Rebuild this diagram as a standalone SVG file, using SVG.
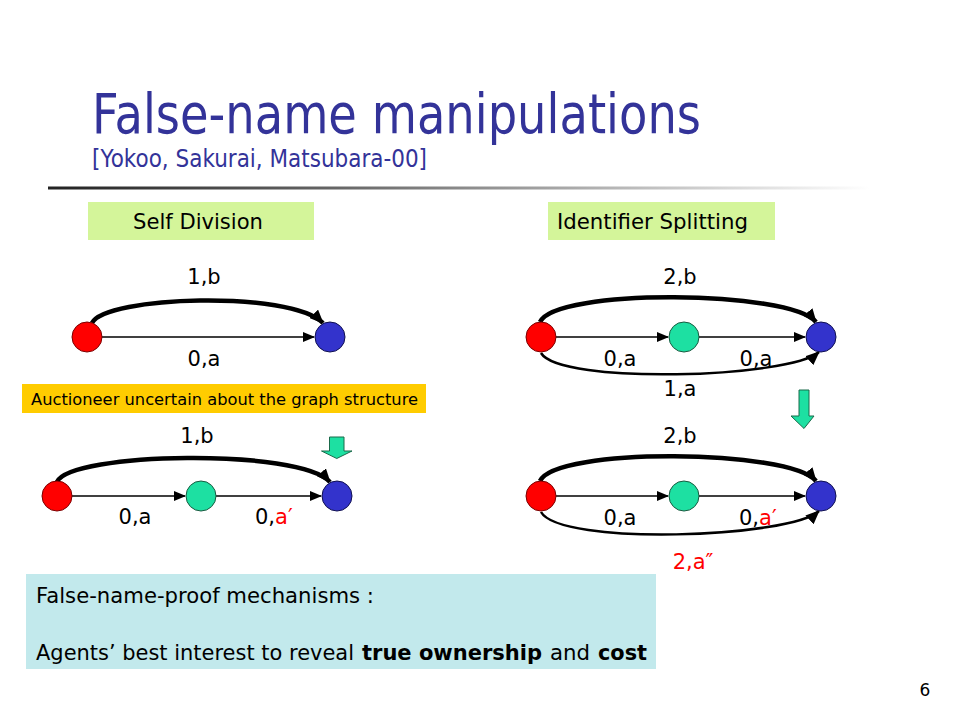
<svg xmlns="http://www.w3.org/2000/svg" width="960" height="720" viewBox="0 0 960 720">
<defs>
  <linearGradient id="rule" x1="0" y1="0" x2="1" y2="0">
    <stop offset="0" stop-color="#222"/>
    <stop offset="0.35" stop-color="#666"/>
    <stop offset="1" stop-color="#fff"/>
  </linearGradient>
  <marker id="ah" markerUnits="userSpaceOnUse" markerWidth="12" markerHeight="10" refX="11" refY="5" orient="auto">
    <path d="M0,0 L12,5 L0,10 z" fill="#000"/>
  </marker>
  <marker id="ahb" markerUnits="userSpaceOnUse" markerWidth="14" markerHeight="12" refX="13" refY="6" orient="auto">
    <path d="M0,0 L14,6 L0,12 z" fill="#000"/>
  </marker>
  <style>
    text{font-family:"DejaVu Sans",Tahoma,sans-serif;fill:#000}
    .lbl{font-size:21px;text-anchor:middle}
    .lbs{font-size:21px}
    .red{fill:#ff0000}
    .thin{fill:none;stroke:#000;stroke-width:1.5;marker-end:url(#ah)}
    .thick{fill:none;stroke:#000;stroke-width:4.5;marker-end:url(#ahb)}
    .curve{fill:none;stroke:#000;stroke-width:2.5;marker-end:url(#ahb)}
    .nr{fill:#ff0000;stroke:#7a0000;stroke-width:1}
    .ng{fill:#1de0a2;stroke:#1a5a40;stroke-width:1}
    .nb{fill:#3333cc;stroke:#101050;stroke-width:1}
    .darrow{fill:#1de0a2;stroke:#1a6a4a;stroke-width:1}
    .note{font-size:22px}
    .b{font-weight:bold}
  </style>
</defs>
<rect width="960" height="720" fill="#fff"/>

<g id="title">
  <text x="92" y="133" style="font-size:55px;fill:#333399" textLength="609" lengthAdjust="spacingAndGlyphs">False-name manipulations</text>
  <text x="92" y="167" style="font-size:24px;fill:#333399" textLength="335" lengthAdjust="spacingAndGlyphs">[Yokoo, Sakurai, Matsubara-00]</text>
  <rect x="48" y="186.5" width="822" height="3" fill="url(#rule)"/>
</g>

<g id="label-self-division">
  <rect x="88" y="202" width="226" height="38" fill="#d4f59a"/>
  <text x="133" y="229" style="font-size:22px" textLength="130" lengthAdjust="spacingAndGlyphs">Self Division</text>
</g>
<g id="label-identifier-splitting">
  <rect x="548" y="202" width="227" height="38" fill="#d4f59a"/>
  <text x="557" y="229" style="font-size:22px" textLength="191" lengthAdjust="spacingAndGlyphs">Identifier Splitting</text>
</g>

<g id="connectors">
  <!-- top-left -->
  <path class="thin" d="M102,337 L314,337"/>
  <path class="thick" d="M92,323 C105,296 290,290 323,323"/>
  <!-- bottom-left -->
  <path class="thin" d="M72,496 L185,496"/>
  <path class="thin" d="M216,496 L321,496"/>
  <path class="thick" d="M57,482 C70,452 300,448 330,482"/>
  <!-- top-right -->
  <path class="thin" d="M556,337 L668,337"/>
  <path class="thin" d="M699,337 L805,337"/>
  <path class="thick" d="M540,322 C555,288 790,290 816,322"/>
  <path class="curve" d="M541,353 C560,385 790,378 819,352"/>
  <!-- bottom-right -->
  <path class="thin" d="M556,496 L668,496"/>
  <path class="thin" d="M699,496 L805,496"/>
  <path class="thick" d="M540,481 C555,447 790,449 816,481"/>
  <path class="curve" d="M541,512 C560,546 790,538 819,511"/>
</g>

<g id="edge-labels">
  <text class="lbl" x="204" y="284">1,b</text>
  <text class="lbl" x="204" y="366">0,a</text>
  <text class="lbl" x="197" y="443">1,b</text>
  <text class="lbl" x="135" y="524">0,a</text>
  <text class="lbs" x="255" y="524">0,<tspan class="red">a′</tspan></text>
  <text class="lbl" x="680" y="284">2,b</text>
  <text class="lbl" x="620" y="366">0,a</text>
  <text class="lbl" x="756" y="366">0,a</text>
  <text class="lbl" x="680" y="396">1,a</text>
  <text class="lbl" x="680" y="443">2,b</text>
  <text class="lbl" x="620" y="525">0,a</text>
  <text class="lbs" x="739" y="525">0,<tspan class="red">a′</tspan></text>
  <text class="lbl red" x="693" y="569">2,a″</text>
</g>

<g id="node-tl-red"><circle class="nr" cx="87" cy="337" r="15"/></g>
<g id="node-tl-blue"><circle class="nb" cx="330" cy="337" r="15"/></g>
<g id="node-bl-red"><circle class="nr" cx="57" cy="496" r="15"/></g>
<g id="node-bl-green"><circle class="ng" cx="201" cy="496" r="15"/></g>
<g id="node-bl-blue"><circle class="nb" cx="337" cy="496" r="15"/></g>
<g id="node-tr-red"><circle class="nr" cx="541" cy="337" r="15"/></g>
<g id="node-tr-green"><circle class="ng" cx="684" cy="337" r="15"/></g>
<g id="node-tr-blue"><circle class="nb" cx="821" cy="337" r="15"/></g>
<g id="node-br-red"><circle class="nr" cx="541" cy="496" r="15"/></g>
<g id="node-br-green"><circle class="ng" cx="684" cy="496" r="15"/></g>
<g id="node-br-blue"><circle class="nb" cx="821" cy="496" r="15"/></g>

<g id="note-uncertain">
  <rect x="22" y="384" width="404" height="29" fill="#ffcc00"/>
  <text x="31" y="405" style="font-size:16px" textLength="387" lengthAdjust="spacingAndGlyphs">Auctioneer uncertain about the graph structure</text>
</g>

<g id="arrow-left">
  <path class="darrow" d="M329.5,437 L344,437 L344,451 L352,451 L336.75,458.5 L321.5,451 L329.5,451 z"/>
</g>
<g id="arrow-right">
  <path class="darrow" d="M799,390 L809,390 L809,416 L814,416 L804,428.5 L791,416 L799,416 z"/>
</g>

<g id="note-proof">
  <rect x="26" y="574" width="630" height="95" fill="#c2e9ec"/>
  <text class="note" x="36" y="603" textLength="338" lengthAdjust="spacingAndGlyphs">False-name-proof mechanisms :</text>
  <text class="note" x="36" y="660" textLength="318" lengthAdjust="spacingAndGlyphs">Agents’ best interest to reveal</text>
  <text class="note b" x="362" y="660" textLength="180" lengthAdjust="spacingAndGlyphs">true ownership</text>
  <text class="note" x="550" y="660" textLength="40" lengthAdjust="spacingAndGlyphs">and</text>
  <text class="note b" x="598" y="660" textLength="49" lengthAdjust="spacingAndGlyphs">cost</text>
</g>

<text x="925" y="696" style="font-size:17px;text-anchor:middle">6</text>
</svg>
